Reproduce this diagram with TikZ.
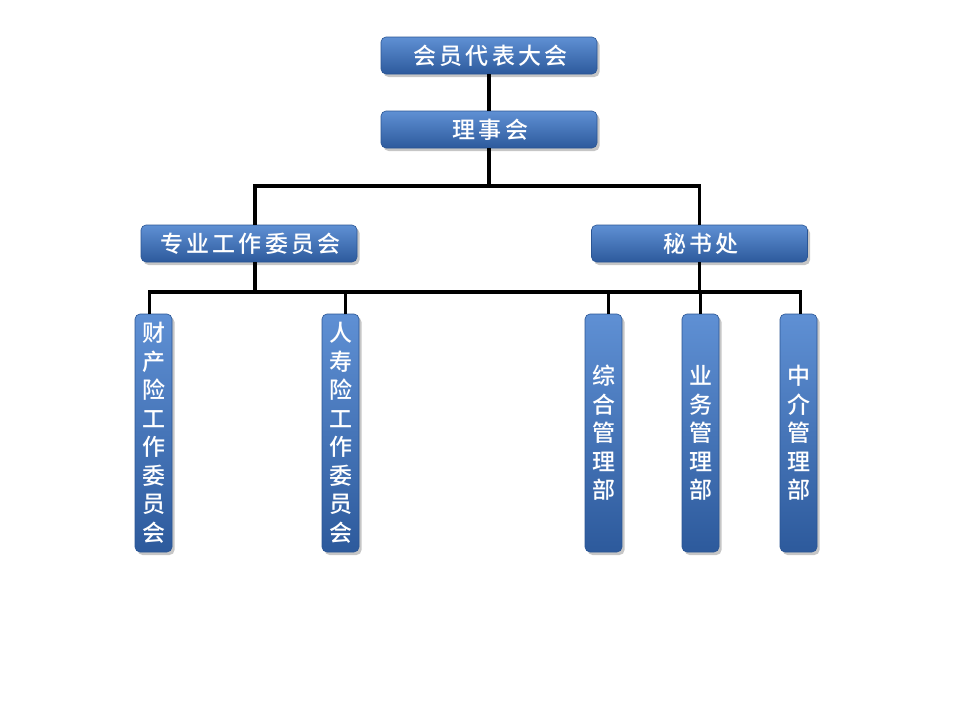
\documentclass[tikz,border=0pt]{standalone}
\usepackage{fontspec}
\newfontfamily\cjk[LetterSpace=14]{Noto Sans CJK SC Medium}
\newfontfamily\cjkv{Noto Sans CJK SC Medium}
\usetikzlibrary{calc,shadows}
\definecolor{boxtop}{HTML}{5F90D4}
\definecolor{boxmid}{HTML}{3B6DB8}
\definecolor{boxbot}{HTML}{2D5A9C}
\definecolor{boxline}{HTML}{2A5594}

\begin{document}
\begin{tikzpicture}[x=1pt,y=-1pt]
	\tikzstyle{unit} = [rounded corners=5pt, draw=boxline, line width=0.6pt, top color=boxtop, middle color=boxmid, bottom color=boxbot, drop shadow={shadow xshift=2.5pt, shadow yshift=-3pt, opacity=0.45}, text=white, inner sep=0pt]
	\tikzstyle{hbox} = [unit, minimum width=216pt, minimum height=37pt, font=\cjk\fontsize{23}{26}\selectfont]
	\tikzstyle{vbox} = [unit, minimum width=37pt, minimum height=238pt, align=center, font=\cjkv\fontsize{23}{28.5}\selectfont]
	\tikzstyle{conn} = [line width=3.2pt, black]
	\useasboundingbox (0,0) rectangle (960,720);
	% top levels
	\node[hbox] (huiyuan) at (489,55.5) {\hspace{3pt}会员代表大会};
	\node[hbox] (lishi) at (489,129.5) {\hspace{3pt}理事会};
	\node[hbox] (zhuanye) at (249,243.5) {\hspace{3pt}专业工作委员会};
	\node[hbox] (mishu) at (699.5,243.5) {\hspace{3pt}秘书处};
	% departments
	\node[vbox] (caichan) at (153.5,433) {财\\产\\险\\工\\作\\委\\员\\会};
	\node[vbox] (renshou) at (340.5,433) {人\\寿\\险\\工\\作\\委\\员\\会};
	\node[vbox] (zonghe) at (603.5,433) {综\\合\\管\\理\\部};
	\node[vbox] (yewu) at (700.5,433) {业\\务\\管\\理\\部};
	\node[vbox] (zhongjie) at (798.5,433) {中\\介\\管\\理\\部};
	\coordinate (bus1) at (489,186);
	\coordinate (bus2) at (489,292);
	% connectors
	\draw[conn] (huiyuan) -- (lishi);
	\draw[conn] (lishi.south) -- (bus1);
	\draw[conn] ([xshift=6pt]zhuanye.north) |- (bus1) -| (mishu.north);
	\draw[conn] ([xshift=6pt]zhuanye.south) -- ([xshift=6pt]zhuanye.south |- bus2);
	\draw[conn] (mishu.south) -- (mishu.south |- bus2);
	\draw[conn] ([xshift=-4pt]caichan.north) |- ([xshift=2pt]zhongjie.north |- bus2) -- ([xshift=2pt]zhongjie.north);
	\draw[conn] ([xshift=5pt]renshou.north) -- ([xshift=5pt]renshou.north |- bus2);
	\draw[conn] ([xshift=5pt]zonghe.north) -- ([xshift=5pt]zonghe.north |- bus2);
	\draw[conn] (yewu.north) -- (yewu.north |- bus2);
\end{tikzpicture}
\end{document}
